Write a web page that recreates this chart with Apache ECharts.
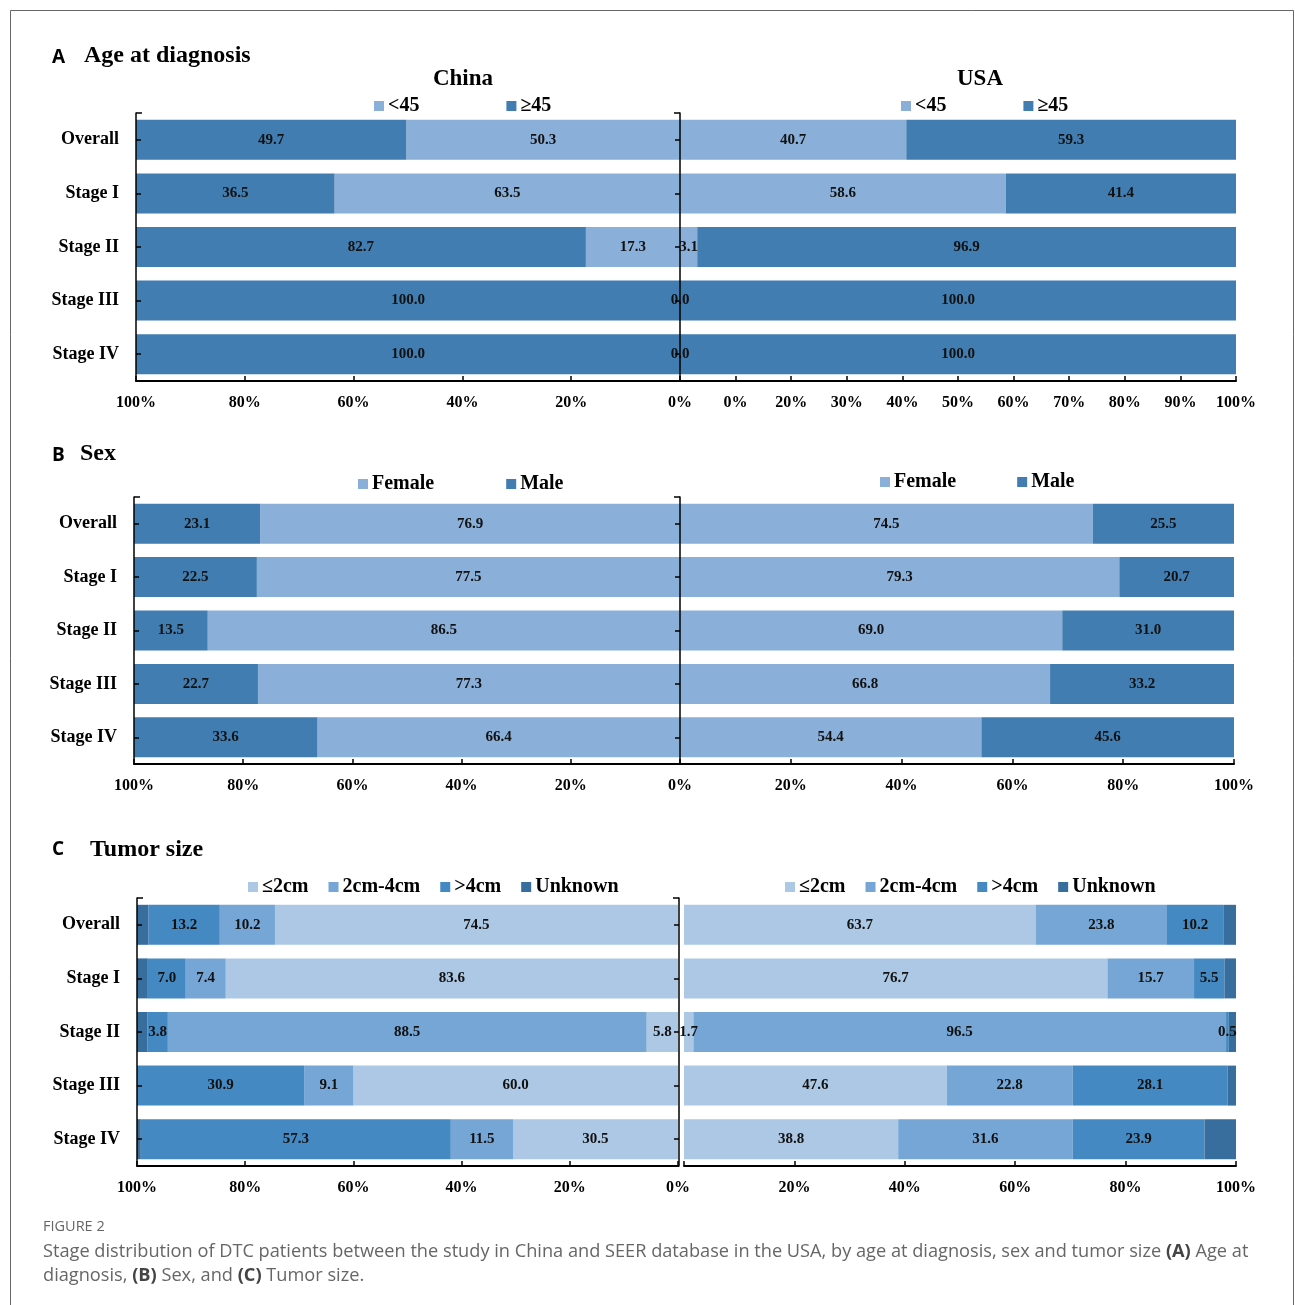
<!DOCTYPE html>
<html>
<head>
<meta charset="utf-8">
<script src="https://cdn.jsdelivr.net/npm/echarts@6/dist/echarts.min.js"></script>
<style>
html,body{margin:0;padding:0;background:#fff;}
#chart{width:1295px;height:1305px;}
</style>
</head>
<body>
<div id="chart"></div>
<script>
// ---------- DATA ----------
const categories = ['Overall', 'Stage I', 'Stage II', 'Stage III', 'Stage IV'];

const ageChinaUnder45 = [50.3, 63.5, 17.3, 0.0, 0.0];
const ageChinaOver45  = [49.7, 36.5, 82.7, 100.0, 100.0];
const ageUSAUnder45   = [40.7, 58.6, 3.1, 0.0, 0.0];
const ageUSAOver45    = [59.3, 41.4, 96.9, 100.0, 100.0];

const sexChinaFemale = [76.9, 77.5, 86.5, 77.3, 66.4];
const sexChinaMale   = [23.1, 22.5, 13.5, 22.7, 33.6];
const sexUSAFemale   = [74.5, 79.3, 69.0, 66.8, 54.4];
const sexUSAMale     = [25.5, 20.7, 31.0, 33.2, 45.6];

const sizeChinaLe2cm   = [74.5, 83.6, 5.8, 60.0, 30.5];
const sizeChina2to4cm  = [10.2, 7.4, 88.5, 9.1, 11.5];
const sizeChinaGt4cm   = [13.2, 7.0, 3.8, 30.9, 57.3];
const sizeChinaUnknown = [2.1, 2.0, 1.9, 0.0, 0.7];
const sizeUSALe2cm     = [63.7, 76.7, 1.7, 47.6, 38.8];
const sizeUSA2to4cm    = [23.8, 15.7, 96.5, 22.8, 31.6];
const sizeUSAGt4cm     = [10.2, 5.5, 0.5, 28.1, 23.9];
const sizeUSAUnknown   = [2.3, 2.1, 1.3, 1.5, 5.7];

// tick labels
const chinaTickLabels   = ['0%', '20%', '40%', '60%', '80%', '100%'];
const usaAgeTickLabels  = ['', '0%', '20%', '30%', '40%', '50%', '60%', '70%', '80%', '90%', '100%'];
const usaTickLabels     = ['0%', '20%', '40%', '60%', '80%', '100%'];

// ---------- STYLE ----------
const SERIF = '"Liberation Serif", "Times New Roman", serif';
const SANS = '"Open Sans", "Liberation Sans", sans-serif';
const C_LIGHT = '#8AAFD9';
const C_DARK = '#417DB1';
const C_S1 = '#ADC8E4';
const C_S2 = '#75A6D6';
const C_S3 = '#4489C1';
const C_S4 = '#386E9E';

const grids = [
  {left: 136, width: 544, top: 113, height: 268},   // A China
  {left: 680, width: 556, top: 113, height: 268},   // A USA
  {left: 134, width: 546, top: 497, height: 267},   // B China
  {left: 680, width: 554, top: 497, height: 267},   // B USA
  {left: 137, width: 541, top: 898, height: 268},   // C China
  {left: 684, width: 552, top: 898, height: 268}    // C USA
];

function xAxisDef(i, isChina, interval, labels, hideFirst) {
  return {
    gridIndex: i, type: 'value', min: 0, max: 100, interval: interval,
    inverse: isChina, z: 10,
    axisLine: {show: true, onZero: false, lineStyle: {color: '#000', width: 2}},
    axisTick: {show: true, inside: true, length: 5, lineStyle: {color: '#000', width: 1.5}},
    splitLine: {show: false},
    axisLabel: {
      margin: 14,
      fontFamily: SERIF, fontWeight: 'bold', fontSize: 16, color: '#000',
      formatter: function (v) {
        const idx = Math.round(v / interval);
        if (hideFirst && idx === 0) return '';
        return labels[idx] !== undefined ? labels[idx] : '';
      }
    }
  };
}

function yAxisDef(i, isChina, offset) {
  return {
    gridIndex: i, type: 'category', data: categories, inverse: true,
    position: 'left', offset: offset || 0, z: 10,
    axisLine: {show: true, onZero: false, lineStyle: {color: '#000', width: 1.5}},
    axisTick: {show: true, alignWithLabel: true, inside: isChina, length: 5, lineStyle: {color: '#000', width: 1.5}},
    axisLabel: {show: isChina, margin: 17, fontFamily: SERIF, fontWeight: 'bold', fontSize: 18, color: '#000'}
  };
}

// extra axis drawing only the top end bracket of each vertical axis
function bracketAxisDef(i, inside, offset) {
  return {
    gridIndex: i, type: 'category', data: categories, inverse: true,
    position: 'left', offset: offset || 0, z: 10,
    axisLine: {show: false, onZero: false},
    axisTick: {show: true, alignWithLabel: false, inside: inside, length: 6,
      interval: function (idx) { return idx === 0; },
      lineStyle: {color: '#000', width: 1.5}},
    axisLabel: {show: false}
  };
}

function bar(name, data, idx, stack, color, labelMode) {
  return {
    type: 'bar', name: name, data: data, stack: stack,
    xAxisIndex: idx, yAxisIndex: idx,
    barWidth: 40,
    itemStyle: {color: color},
    emphasis: {disabled: true},
    label: {
      show: labelMode !== 'none',
      position: 'inside',
      fontFamily: SERIF, fontWeight: 'bold', fontSize: 15, color: '#111',
      formatter: function (p) {
        if (labelMode === 'zero') return Number(p.value).toFixed(1);
        return p.value === 0 ? '' : Number(p.value).toFixed(1);
      }
    }
  };
}

function legendDef(names, left, top, gap) {
  return {
    data: names, left: left, top: top, itemGap: gap,
    itemWidth: 10, itemHeight: 10, icon: 'rect',
    selectedMode: false,
    textStyle: {fontFamily: SERIF, fontWeight: 'bold', fontSize: 20, color: '#000', padding: [0, 0, 0, -1]}
  };
}

function txt(text, x, y, font, align) {
  return {
    type: 'text', x: x, y: y, silent: true,
    style: {text: text, font: font, fill: '#000', textAlign: align || 'left', textVerticalAlign: 'middle'}
  };
}

const option = {
  animation: false,
  backgroundColor: '#fff',
  grid: grids,
  xAxis: [
    xAxisDef(0, true, 20, chinaTickLabels, false),
    xAxisDef(1, false, 10, usaAgeTickLabels, true),
    xAxisDef(2, true, 20, chinaTickLabels, true),
    xAxisDef(3, false, 20, usaTickLabels, false),
    xAxisDef(4, true, 20, chinaTickLabels, false),
    xAxisDef(5, false, 20, usaTickLabels, true)
  ],
  yAxis: [
    yAxisDef(0, true), yAxisDef(1, false),
    yAxisDef(2, true), yAxisDef(3, false),
    yAxisDef(4, true), yAxisDef(5, false, 5),
    bracketAxisDef(0, true), bracketAxisDef(1, false),
    bracketAxisDef(2, true), bracketAxisDef(3, false),
    bracketAxisDef(4, true), bracketAxisDef(5, false, 5)
  ],
  legend: [
    legendDef(['<45', '≥45'], 369, 91, 87),
    legendDef(['<45', '≥45'], 896, 91, 77),
    legendDef(['Female', 'Male'], 353, 469, 72),
    legendDef(['Female', 'Male'], 875, 467, 61),
    legendDef(['≤2cm', '2cm-4cm', '>4cm', 'Unknown'], 243, 872, 20),
    legendDef(['≤2cm', '2cm-4cm', '>4cm', 'Unknown'], 780, 872, 20)
  ],
  title: [
    {text: 'FIGURE 2', left: 43, top: 1219, padding: 0,
      textStyle: {fontFamily: SANS, fontSize: 14.5, fontWeight: 'normal', color: '#666'}},
    {text: 'Stage distribution of DTC patients between the study in China and SEER database in the USA, by age at diagnosis, sex and tumor size {b|(A)} Age at\ndiagnosis, {b|(B)} Sex, and {b|(C)} Tumor size.',
      left: 43, top: 1240, padding: 0,
      textStyle: {fontFamily: SANS, fontSize: 18.2, fontWeight: 'normal', color: '#666', lineHeight: 24,
        rich: {b: {fontFamily: SANS, fontSize: 18.2, fontWeight: 'bold', color: '#444', lineHeight: 24}}}}
  ],
  graphic: [
    {type: 'rect', silent: true, shape: {x: 10.5, y: 10.5, width: 1283, height: 1320},
      style: {fill: 'none', stroke: '#666', lineWidth: 1}},
    txt('A', 52, 58, 'bold 19px ' + SANS),
    txt('Age at diagnosis', 84, 56, 'bold 24px ' + SERIF),
    txt('China', 463, 79, 'bold 23px ' + SERIF, 'center'),
    txt('USA', 980, 79, 'bold 23px ' + SERIF, 'center'),
    txt('B', 52, 456, 'bold 19px ' + SANS),
    txt('Sex', 80, 454, 'bold 24px ' + SERIF),
    txt('C', 52, 850, 'bold 19px ' + SANS),
    txt('Tumor size', 90, 850, 'bold 24px ' + SERIF)
  ],
  series: [
    bar('<45', ageChinaUnder45, 0, 'ageC', C_LIGHT, 'zero'),
    bar('≥45', ageChinaOver45, 0, 'ageC', C_DARK, 'normal'),
    bar('<45', ageUSAUnder45, 1, 'ageU', C_LIGHT, 'normal'),
    bar('≥45', ageUSAOver45, 1, 'ageU', C_DARK, 'normal'),

    bar('Female', sexChinaFemale, 2, 'sexC', C_LIGHT, 'normal'),
    bar('Male', sexChinaMale, 2, 'sexC', C_DARK, 'normal'),
    bar('Female', sexUSAFemale, 3, 'sexU', C_LIGHT, 'normal'),
    bar('Male', sexUSAMale, 3, 'sexU', C_DARK, 'normal'),

    bar('≤2cm', sizeChinaLe2cm, 4, 'sizeC', C_S1, 'normal'),
    bar('2cm-4cm', sizeChina2to4cm, 4, 'sizeC', C_S2, 'normal'),
    bar('>4cm', sizeChinaGt4cm, 4, 'sizeC', C_S3, 'normal'),
    bar('Unknown', sizeChinaUnknown, 4, 'sizeC', C_S4, 'none'),
    bar('≤2cm', sizeUSALe2cm, 5, 'sizeU', C_S1, 'normal'),
    bar('2cm-4cm', sizeUSA2to4cm, 5, 'sizeU', C_S2, 'normal'),
    bar('>4cm', sizeUSAGt4cm, 5, 'sizeU', C_S3, 'normal'),
    bar('Unknown', sizeUSAUnknown, 5, 'sizeU', C_S4, 'none')
  ]
};

const chart = echarts.init(document.getElementById('chart'), null, {renderer: 'canvas'});
chart.setOption(option);
</script>
</body>
</html>
